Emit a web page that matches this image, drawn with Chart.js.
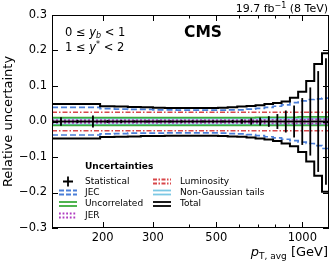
<!DOCTYPE html>
<html>
<head>
<meta charset="utf-8">
<script src="https://cdn.jsdelivr.net/npm/chart.js@4"></script>
<style>
  html, body { margin: 0; padding: 0; background: #fff; overflow: hidden; }
  #wrap { width: 332px; height: 265px; }
  canvas { display: block; }
</style>
</head>
<body>
<div id="wrap"><canvas id="unc"></canvas></div>
<script>
// bin edges in pT,avg [GeV]
const binEdges = [133, 153, 174, 196, 220, 245, 272, 300, 330, 362, 395, 430, 468, 507,
                  548, 592, 638, 686, 737, 790, 846, 905, 967, 1032, 1101, 1172, 1248];

// one value per bin
const statUnc    = [0.012, 0.004, 0.017, 0.004, 0.004, 0.003, 0.003, 0.003, 0.003, 0.003, 0.003, 0.003, 0.003,
                    0.003, 0.004, 0.006, 0.009, 0.011, 0.015, 0.021, 0.031, 0.045, 0.066, 0.096, 0.142, 0.178];
const jecUp      = [0.040, 0.040, 0.040, 0.036, 0.035, 0.034, 0.034, 0.033, 0.033, 0.032, 0.032, 0.032, 0.032,
                    0.032, 0.033, 0.033, 0.035, 0.037, 0.040, 0.043, 0.047, 0.053, 0.058, 0.062, 0.064, 0.066];
const jecDown    = [-0.038, -0.038, -0.038, -0.035, -0.034, -0.033, -0.033, -0.033, -0.032, -0.032, -0.032, -0.032, -0.032,
                    -0.033, -0.034, -0.035, -0.037, -0.040, -0.043, -0.046, -0.050, -0.054, -0.058, -0.062, -0.068, -0.076];
const lumiUp     = [0.026, 0.026, 0.026, 0.026, 0.026, 0.026, 0.026, 0.026, 0.026, 0.026, 0.026, 0.026, 0.026,
                    0.026, 0.026, 0.026, 0.026, 0.026, 0.026, 0.026, 0.026, 0.026, 0.026, 0.026, 0.026, 0.026];
const lumiDown   = [-0.026, -0.026, -0.026, -0.026, -0.026, -0.026, -0.026, -0.026, -0.026, -0.026, -0.026, -0.026, -0.026,
                    -0.026, -0.026, -0.026, -0.026, -0.026, -0.026, -0.026, -0.026, -0.026, -0.026, -0.026, -0.026, -0.026];
const uncorrUp   = [0.011, 0.011, 0.011, 0.011, 0.011, 0.011, 0.011, 0.011, 0.011, 0.011, 0.011, 0.011, 0.011,
                    0.011, 0.011, 0.011, 0.011, 0.012, 0.012, 0.012, 0.012, 0.012, 0.013, 0.013, 0.013, 0.013];
const uncorrDown = [-0.011, -0.011, -0.011, -0.011, -0.011, -0.011, -0.011, -0.011, -0.011, -0.011, -0.011, -0.011, -0.011,
                    -0.011, -0.011, -0.011, -0.011, -0.011, -0.011, -0.011, -0.011, -0.011, -0.011, -0.011, -0.011, -0.011];
const ngUp       = [0.008, 0.008, 0.008, 0.008, 0.008, 0.008, 0.008, 0.008, 0.008, 0.008, 0.008, 0.008, 0.008,
                    0.008, 0.008, 0.008, 0.008, 0.008, 0.008, 0.008, 0.008, 0.008, 0.008, 0.008, 0.008, 0.008];
const ngDown     = [-0.008, -0.008, -0.008, -0.008, -0.008, -0.008, -0.008, -0.008, -0.008, -0.008, -0.008, -0.008, -0.008,
                    -0.008, -0.008, -0.008, -0.008, -0.008, -0.008, -0.008, -0.008, -0.008, -0.008, -0.008, -0.008, -0.008];
const jerUp      = [0.004, 0.004, 0.004, 0.004, 0.004, 0.004, 0.004, 0.004, 0.004, 0.004, 0.004, 0.004, 0.004,
                    0.004, 0.004, 0.004, 0.004, 0.004, 0.005, 0.005, 0.005, 0.005, 0.005, 0.006, 0.006, 0.006];
const jerDown    = [-0.004, -0.004, -0.004, -0.004, -0.004, -0.004, -0.004, -0.004, -0.004, -0.004, -0.004, -0.004, -0.004,
                    -0.004, -0.004, -0.004, -0.004, -0.004, -0.005, -0.005, -0.005, -0.005, -0.005, -0.006, -0.006, -0.006];
const totalUp    = [0.049, 0.049, 0.049, 0.043, 0.042, 0.041, 0.040, 0.039, 0.038, 0.038, 0.038, 0.038, 0.038,
                    0.039, 0.040, 0.042, 0.044, 0.046, 0.049, 0.052, 0.056, 0.067, 0.084, 0.114, 0.162, 0.192];
const totalDown  = [-0.048, -0.048, -0.048, -0.044, -0.043, -0.042, -0.041, -0.041, -0.040, -0.040, -0.040, -0.040, -0.040,
                    -0.041, -0.042, -0.043, -0.045, -0.048, -0.051, -0.055, -0.062, -0.070, -0.086, -0.113, -0.153, -0.198];

// axis ticks
const yTickValues = [-0.3, -0.2, -0.1, 0, 0.1, 0.2, 0.3];
const xTickValues = [200, 300, 400, 500, 600, 700, 800, 900, 1000];
const xTickLabels = [200, 300, 500, 1000];

const FONT = 'DejaVu Sans';
const C_JEC = '#4a7ed8', C_LUMI = '#d8474a', C_UNC = '#3cac3c', C_JER = '#b03cc0', C_NG = '#7cc8e4';

function stepPoints(vals) {
    const pts = vals.map((v, i) => ({ x: binEdges[i], y: v }));
    pts.push({ x: binEdges[vals.length], y: vals[vals.length - 1] });
    return pts;
}

function stepLine(vals, color, dash, width, order) {
    return {
        data: stepPoints(vals),
        borderColor: color, borderDash: dash, borderWidth: width,
        stepped: 'before', pointRadius: 0, fill: false, order,
    };
}

// statistical errors: vertical bars at bin centres
const statBars = {
    id: 'statBars',
    afterDatasetsDraw(chart) {
        const { ctx, chartArea: a, scales: { x, y } } = chart;
        ctx.save();
        ctx.beginPath();
        ctx.rect(a.left, a.top, a.right - a.left, a.bottom - a.top);
        ctx.clip();
        ctx.strokeStyle = '#000';
        ctx.lineWidth = 1.8;
        statUnc.forEach((s, i) => {
            const px = x.getPixelForValue((binEdges[i] + binEdges[i + 1]) / 2);
            ctx.beginPath();
            ctx.moveTo(px, y.getPixelForValue(s));
            ctx.lineTo(px, y.getPixelForValue(-s));
            ctx.stroke();
        });
        ctx.restore();
    },
};

// text made of pieces in different fonts; right-aligned ones are laid out from the end
function drawRich(ctx, parts, x, y, align) {
    ctx.textBaseline = 'alphabetic';
    if (align === 'right') {
        let cx = x;
        ctx.textAlign = 'right';
        parts.slice().reverse().forEach(p => {
            ctx.font = p.font;
            ctx.fillText(p.t, cx, y + (p.dy || 0));
            cx -= ctx.measureText(p.t).width;
        });
        return;
    }
    let cx = x;
    ctx.textAlign = 'left';
    parts.forEach(p => {
        ctx.font = p.font;
        ctx.fillText(p.t, cx, y + (p.dy || 0));
        cx += ctx.measureText(p.t).width;
    });
}

function pairHandle(ctx, x, y, len, color, dash) {
    ctx.save();
    ctx.strokeStyle = color;
    ctx.lineWidth = 1.8;
    ctx.setLineDash(dash);
    [-2, 2].forEach(d => {
        ctx.beginPath();
        ctx.moveTo(x, y + d);
        ctx.lineTo(x + len, y + d);
        ctx.stroke();
    });
    ctx.restore();
}

const frameAndText = {
    id: 'frameAndText',
    afterDraw(chart) {
        const { ctx, chartArea: a, scales: { x, y } } = chart;
        ctx.save();
        // frame
        ctx.strokeStyle = '#000';
        ctx.lineWidth = 1;
        ctx.strokeRect(a.left + 0.5, a.top + 0.5, a.right - a.left - 1, a.bottom - a.top - 1);
        // inward ticks
        ctx.beginPath();
        xTickValues.forEach(v => {
            const px = Math.round(x.getPixelForValue(v)) + 0.5;
            const len = xTickLabels.includes(v) ? 6 : 3.5;
            ctx.moveTo(px, a.bottom); ctx.lineTo(px, a.bottom - len);
            ctx.moveTo(px, a.top); ctx.lineTo(px, a.top + len);
        });
        yTickValues.forEach(v => {
            const py = Math.round(y.getPixelForValue(v)) + 0.5;
            ctx.moveTo(a.left, py); ctx.lineTo(a.left + 6, py);
            ctx.moveTo(a.right, py); ctx.lineTo(a.right - 6, py);
        });
        ctx.stroke();

        ctx.fillStyle = '#000';
        drawRich(ctx, [
            { t: '19.7 fb', font: `11px ${FONT}` },
            { t: '\u22121', font: `8px ${FONT}`, dy: -4 },
            { t: ' (8 TeV)', font: `11px ${FONT}` },
        ], 328, 12, 'right');

        ctx.font = `bold 15.5px ${FONT}`;
        ctx.textAlign = 'left';
        ctx.fillText('CMS', 184, 37);

        drawRich(ctx, [
            { t: '0 \u2264 ', font: `11.5px ${FONT}` },
            { t: 'y', font: `italic 11.5px ${FONT}` },
            { t: 'b', font: `italic 8px ${FONT}`, dy: 2 },
            { t: ' < 1', font: `11.5px ${FONT}` },
        ], 65, 36, 'left');
        drawRich(ctx, [
            { t: '1 \u2264 ', font: `11.5px ${FONT}` },
            { t: 'y', font: `italic 11.5px ${FONT}` },
            { t: '*', font: `8px ${FONT}`, dy: -4 },
            { t: ' < 2', font: `11.5px ${FONT}` },
        ], 65, 51, 'left');

        // x axis title
        drawRich(ctx, [
            { t: 'p', font: `italic 13px ${FONT}` },
            { t: 'T, avg', font: `9px ${FONT}`, dy: 3 },
            { t: ' [GeV]', font: `13px ${FONT}` },
        ], 328, 256, 'right');

        // legend
        ctx.font = `bold 9px ${FONT}`;
        ctx.textAlign = 'left';
        ctx.textBaseline = 'middle';
        ctx.fillText('Uncertainties', 85, 167);
        ctx.font = `9px ${FONT}`;
        const rows = [181.5, 192.5, 204, 215.5];
        // statistical cross
        ctx.strokeStyle = '#000';
        ctx.lineWidth = 1.8;
        ctx.beginPath();
        ctx.moveTo(63, rows[0]); ctx.lineTo(73, rows[0]);
        ctx.moveTo(68, rows[0] - 5); ctx.lineTo(68, rows[0] + 5);
        ctx.stroke();
        pairHandle(ctx, 59, rows[1], 18, C_JEC, [5, 2]);
        pairHandle(ctx, 59, rows[2], 18, C_UNC, []);
        pairHandle(ctx, 59, rows[3], 18, C_JER, [1.8, 1.8]);
        pairHandle(ctx, 153, rows[0], 18, C_LUMI, [4, 1.5, 1.5, 1.5]);
        pairHandle(ctx, 153, rows[1], 18, C_NG, []);
        pairHandle(ctx, 153, rows[2], 18, '#000', []);
        ctx.textBaseline = 'middle';
        ctx.fillStyle = '#000';
        ['Statistical', 'JEC', 'Uncorrelated', 'JER'].forEach((t, i) => ctx.fillText(t, 85, rows[i]));
        ['Luminosity', 'Non-Gaussian tails', 'Total'].forEach((t, i) => ctx.fillText(t, 180, rows[i]));
        ctx.restore();
    },
};

new Chart(document.getElementById('unc'), {
    type: 'line',
    data: {
        datasets: [
            stepLine(totalUp, '#000', [], 2, 0),
            stepLine(totalDown, '#000', [], 2, 0),
            {
                data: [{ x: binEdges[0], y: 0 }, { x: binEdges[binEdges.length - 1], y: 0 }],
                borderColor: '#000', borderWidth: 1.8, pointRadius: 0, order: 1,
            },
            stepLine(jecUp, C_JEC, [6, 3], 1.7, 2),
            stepLine(jecDown, C_JEC, [6, 3], 1.7, 2),
            stepLine(lumiUp, C_LUMI, [5, 2, 1.5, 2], 1.7, 3),
            stepLine(lumiDown, C_LUMI, [5, 2, 1.5, 2], 1.7, 3),
            stepLine(jerUp, C_JER, [2, 2], 1.7, 4),
            stepLine(jerDown, C_JER, [2, 2], 1.7, 4),
            stepLine(uncorrUp, C_UNC, [], 1.7, 5),
            stepLine(uncorrDown, C_UNC, [], 1.7, 5),
            stepLine(ngUp, C_NG, [], 1.7, 6),
            stepLine(ngDown, C_NG, [], 1.7, 6),
        ],
    },
    options: {
        responsive: true, maintainAspectRatio: false, animation: false,
        layout: { padding: { left: 0, right: 3, top: 15, bottom: 0 } },
        plugins: { legend: { display: false }, tooltip: { enabled: false } },
        scales: {
            x: {
                type: 'logarithmic', min: 133, max: 1240,
                afterBuildTicks: s => { s.ticks = xTickValues.map(v => ({ value: v })); },
                afterFit: s => { s.height = 37; },
                grid: { display: false, drawTicks: false },
                border: { display: false },
                ticks: {
                    callback: v => xTickLabels.includes(v) ? String(v) : '',
                    font: { family: FONT, size: 11.5 }, color: '#000',
                    padding: 3, maxRotation: 0, autoSkip: false,
                },
            },
            y: {
                min: -0.3, max: 0.3,
                afterBuildTicks: s => { s.ticks = yTickValues.map(v => ({ value: v })); },
                afterFit: s => { s.width = 52; },
                grid: { display: false, drawTicks: false },
                border: { display: false },
                ticks: {
                    callback: v => v === 0 ? '0.0' : (v < 0 ? '\u2212' + Math.abs(v).toFixed(1) : v.toFixed(1)),
                    font: { family: FONT, size: 11.5 }, color: '#000', padding: 5,
                },
                title: {
                    display: true, text: 'Relative uncertainty', color: '#000',
                    font: { family: FONT, size: 13 }, padding: { top: 1, bottom: 0 },
                },
            },
        },
    },
    plugins: [statBars, frameAndText],
});
</script>
</body>
</html>
